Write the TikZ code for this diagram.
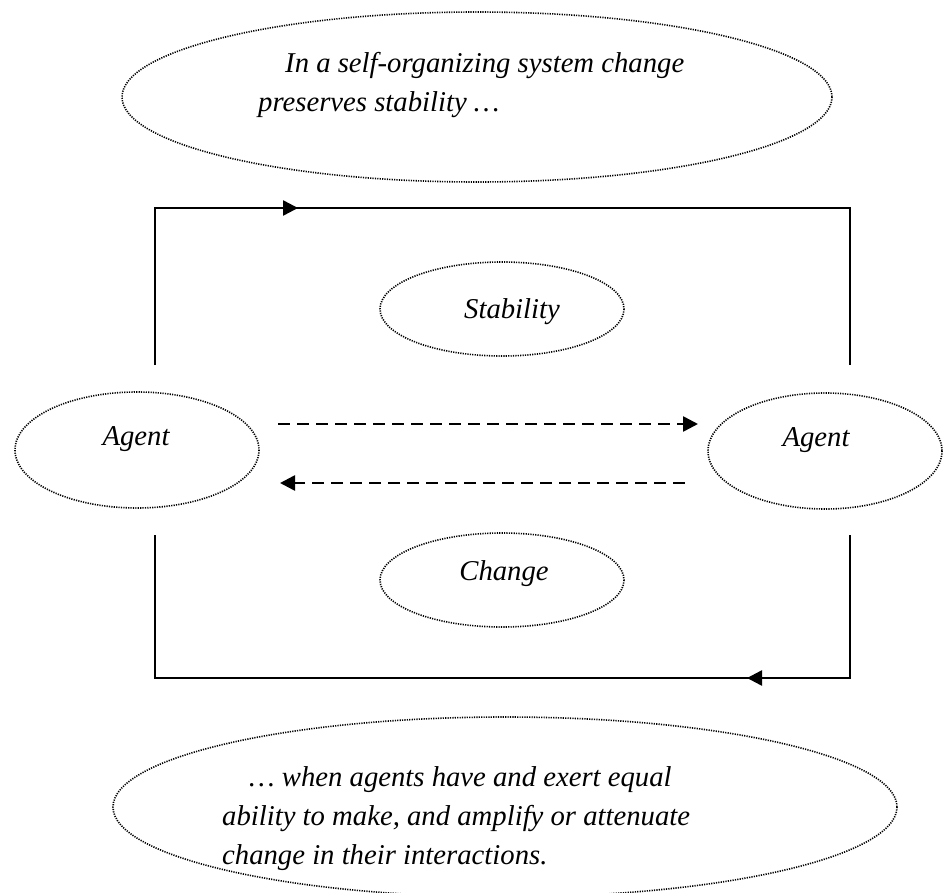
\documentclass[tikz,border=0pt]{standalone}
\usepackage{fontspec}
\setmainfont{Liberation Serif}
\usetikzlibrary{arrows.meta,shapes.geometric}
\begin{document}
\begin{tikzpicture}[x=1pt,y=-1pt,
  bubble/.style={draw, line width=1.6pt, dash pattern=on 1.2pt off 1.2pt},
  frame/.style={line width=2.5pt, line cap=butt},
  tip/.style={-{Triangle[length=15pt,width=15pt]}},
  flow/.style={line width=2.6pt, dash pattern=on 12pt off 7pt, -{Triangle[length=15pt,width=15pt]}},
  label/.style={font=\fontsize{28.7}{39}\selectfont\itshape, inner sep=0pt}]
\useasboundingbox (0,0) rectangle (944,893);

% dotted ellipses
\draw[bubble] (477,97) ellipse [x radius=355, y radius=85];
\draw[bubble] (502,309) ellipse [x radius=122, y radius=47];
\draw[bubble] (502,580) ellipse [x radius=122, y radius=47];
\draw[bubble] (137,450) ellipse [x radius=122, y radius=58];
\draw[bubble] (825,451) ellipse [x radius=117, y radius=58];
\draw[bubble] (505,807) ellipse [x radius=392, y radius=90];

% texts
\node[label, anchor=base west] (t1) at (285,73) {In a self-organizing system change};
\node[label, anchor=base west] (t2) at (258,112) {preserves stability \dots};
\node[label, anchor=base] (stab) at (512,318) {Stability};
\node[label, anchor=base] (chg) at (504,580) {Change};
\node[label, anchor=base] (agl) at (136,445) {Agent};
\node[label, anchor=base] (agr) at (816,446) {Agent};
\node[label, anchor=base west] (b1) at (249,786) {\dots\ when agents have and exert equal};
\node[label, anchor=base west] (b2) at (222,825) {ability to make, and amplify or attenuate};
\node[label, anchor=base west] (b3) at (222,864) {change in their interactions.};

% frame corners and arrow positions
\coordinate (ul) at (155,365);
\coordinate (tl) at (155,208);
\coordinate (ta) at (298,208);
\coordinate (tr) at (850,208);
\coordinate (ur) at (850,365);
\coordinate (ll) at (155,535);
\coordinate (bl) at (155,678);
\coordinate (ba) at (747,678);
\coordinate (br) at (850,678);
\coordinate (lr) at (850,535);

% upper loop
\draw[frame] (ul) -- (tl) -- (ta) -- (tr) -- (ur);
\draw[frame, tip] (tl) -- (ta);
% lower loop
\draw[frame] (ll) -- (bl) -- (br) -- (lr);
\draw[frame, tip] (br) -- (ba);

% exchanges between the agents
\coordinate (f1s) at (278,424);
\coordinate (f1e) at (698,424);
\coordinate (f2s) at (685,483);
\coordinate (f2e) at (280,483);
\draw[flow] (f1s) -- (f1e);
\draw[flow] (f2s) -- (f2e);
\end{tikzpicture}
\end{document}
